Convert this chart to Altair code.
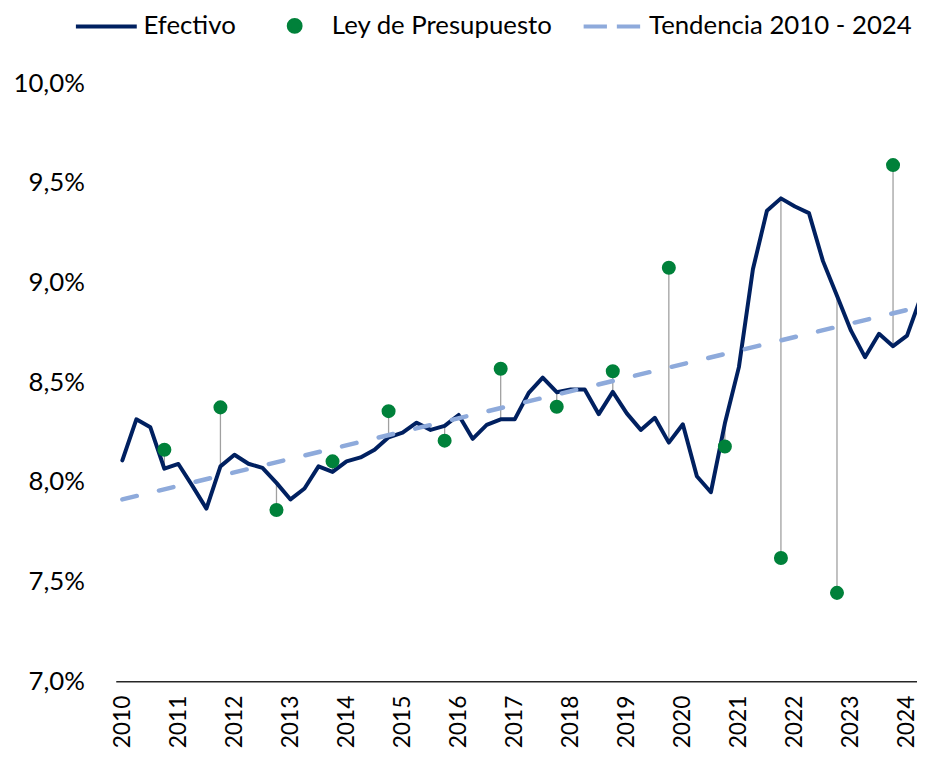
import altair as alt
import pandas as pd

# ---------------- data ----------------
years = list(range(2010, 2025))          # axis tick labels (first quarter of each year)
efectivo = [                               # quarterly, 2010Q1 ... 2024Q2 (%)
    8.108, 8.314, 8.274, 8.066,
    8.090, 7.980, 7.866, 8.078,
    8.136, 8.091, 8.070, 7.995,
    7.912, 7.967, 8.078, 8.050,
    8.103, 8.123, 8.161, 8.224,
    8.247, 8.297, 8.261, 8.281,
    8.336, 8.216, 8.286, 8.314,
    8.314, 8.447, 8.523, 8.450,
    8.464, 8.464, 8.340, 8.452,
    8.344, 8.261, 8.322, 8.197,
    8.289, 8.028, 7.948, 8.294,
    8.576, 9.067, 9.361, 9.423,
    9.382, 9.349, 9.108, 8.934,
    8.759, 8.626, 8.743, 8.681,
    8.734, 8.930,
]
ley_years = list(range(2010, 2024))       # budget-law points, fourth quarter of each year
ley = [8.161, 8.374, 7.859, 8.103, 8.355, 8.207, 8.568,
       8.377, 8.555, 9.075, 8.178, 7.618, 7.443, 9.590]
trend_quarter = [0, 57]                   # 2010Q1 and 2024Q2
trend = [7.912, 8.880]
y_ticks = [7.0, 7.5, 8.0, 8.5, 9.0, 9.5, 10.0]

SERIES = ["Efectivo", "Ley de Presupuesto", "Tendencia 2010 - 2024"]
COLORS = ["#002060", "#00813a", "#8eaadb"]

# ---------------- tables ----------------
df_line = pd.DataFrame({"q": list(range(len(efectivo))), "v": efectivo})
q_ley = [(y - 2010) * 4 + 3 for y in ley_years]
df_ley = pd.DataFrame({
    "q": q_ley,
    "v": ley,
    "ef": [efectivo[q] for q in q_ley],
})
df_trend = pd.DataFrame({"q": trend_quarter, "v": trend})
df_legend = pd.DataFrame({"serie": SERIES, "q": [trend_quarter[0]] * 3, "v": [trend[0]] * 3})

FONT = "Lato"

x_scale = alt.Scale(domain=[-0.47, 56.71], nice=False, zero=False)
y_scale = alt.Scale(domain=[7.0, 10.0], nice=False, zero=False)

x_axis = alt.Axis(
    values=[(y - 2010) * 4 for y in years],
    labelExpr="'' + (2010 + datum.value / 4)",
    labelAngle=270,
    labelFont=FONT, labelFontSize=23, labelColor="#000000",
    labelPadding=14, labelOverlap=False, labelFlush=False,
    ticks=False, tickSize=0, grid=False,
    domain=True, domainColor="#262626", domainWidth=1.5,
    title=None,
)
y_axis = alt.Axis(
    values=y_ticks,
    labelExpr="replace(format(datum.value, '.1f'), '.', ',') + '%'",
    labelFont=FONT, labelFontSize=26, labelColor="#000000",
    labelPadding=31.7, labelOverlap=False, labelFlush=False,
    ticks=False, tickSize=0, grid=False, domain=False,
    title=None,
)

X = alt.X("q:Q", scale=x_scale, axis=x_axis)
Y = alt.Y("v:Q", scale=y_scale, axis=y_axis)

# legend glyphs (unit paths, scaled by sqrt(symbolSize)/2 = 10px);
# every glyph spans the same width so the legend columns are evenly spaced
EXTENT = "M-3.07,0L-3.07,0M3.07,0L3.07,0"
LINE_PATH = "M-3.07,0H3.07"
CIRCLE_PATH = ("M-0.6,0A0.6,0.6,0,1,1,0.6,0A0.6,0.6,0,1,1,-0.6,0Z"
               "M-0.22,0A0.22,0.22,0,1,1,0.22,0A0.22,0.22,0,1,1,-0.22,0Z" + EXTENT)
DASH_PATH = "M-2.85,0H-0.5M0.5,0H2.85" + EXTENT

legend = alt.Legend(
    title=None,
    orient="none",
    legendX=-22.5,
    legendY=-71,
    direction="horizontal",
    labelFont=FONT, labelFontSize=26, labelColor="#000000",
    labelOffset=24.5,
    labelLimit=400,
    symbolSize=400,
    symbolStrokeWidth=4,
    symbolOpacity=1,
    columnPadding=20,
)

rules = alt.Chart(df_ley).mark_rule(color="#a0a0a0", strokeWidth=1.3).encode(
    x=X, y=Y, y2="ef:Q"
)

line = alt.Chart(df_line).mark_line(
    color=COLORS[0], strokeWidth=4, strokeJoin="round", strokeCap="round", clip=True
).encode(x=X, y=Y)

trend_line = alt.Chart(df_trend).mark_line(
    color=COLORS[2], strokeWidth=4.5, strokeDash=[15, 23], strokeCap="round", clip=True
).encode(x=X, y=Y)

points = alt.Chart(df_ley).mark_circle(size=200, opacity=1, color=COLORS[1]).encode(
    x=X, y=Y
)

legend_layer = alt.Chart(df_legend).mark_point(filled=True, opacity=0).encode(
    x=X,
    y=Y,
    color=alt.Color("serie:N", scale=alt.Scale(domain=SERIES, range=COLORS), legend=legend),
    stroke=alt.Stroke("serie:N", scale=alt.Scale(domain=SERIES, range=COLORS), legend=legend),
    shape=alt.Shape("serie:N", scale=alt.Scale(domain=SERIES, range=[LINE_PATH, CIRCLE_PATH, DASH_PATH]),
                    legend=legend),
)

chart = alt.layer(rules, line, trend_line, points, legend_layer).properties(
    width=808.3,
    height=603,
    autosize=alt.AutoSizeParams(type="none"),
    padding={"left": 108.7, "top": 72.8, "right": 0, "bottom": 66},
    background="#ffffff",
).configure_view(strokeWidth=0)

chart.save("out.html", embed_options={"renderer": "svg", "actions": False})
